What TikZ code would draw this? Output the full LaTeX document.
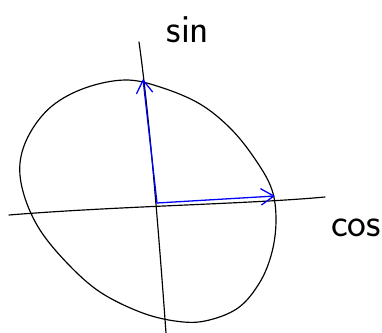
\documentclass[tikz,border=0pt]{standalone}
\usepackage{tikz}
\usetikzlibrary{arrows.meta, positioning, calc}

\begin{document}
\begin{tikzpicture}[x=0.03cm, y=-0.03cm, line cap=round, line join=round]
  \tikzset{
    pen/.style={black, line width=1pt},
    vec/.style={blue, line width=1.1pt, -{Straight Barb[length=11pt, width=14pt]}},
    axlabel/.style={font=\sffamily\fontsize{34}{36}\selectfont, inner sep=0pt}
  }
  \useasboundingbox (0,0) rectangle (382,333);

  % Axes
  \coordinate (xl) at (9,215);
  \coordinate (xr) at (325,197);
  \coordinate (yt) at (139,42);
  \coordinate (yb) at (166,333);
  \coordinate (orig) at (157,203);
  \draw[pen] (xl) .. controls (120,206) and (250,204) .. (xr);
  \draw[pen] (yt) .. controls (150,120) and (160,250) .. (yb);

  % Circle
  \draw[pen] plot[smooth cycle, tension=0.6] coordinates {
    (125,80) (160,87) (200,104) (232,130) (257,162) (272,190)
    (276,220) (272,252) (260,282) (238,308) (205,321) (175,321)
    (140,312) (100,292) (68,264) (40,230) (24,195) (20,163)
    (30,133) (52,106) (85,88)};

  % Labels
  \node[axlabel] (sinlab) at (188,30) {sin};
  \node[axlabel] (coslab) at (356,228) {cos};

  % Unit vectors
  \coordinate (etop) at (143,79);
  \coordinate (eright) at (275,196);
  \draw[vec] (orig) -- (etop);
  \draw[vec] (orig) -- (eright);
\end{tikzpicture}
\end{document}
